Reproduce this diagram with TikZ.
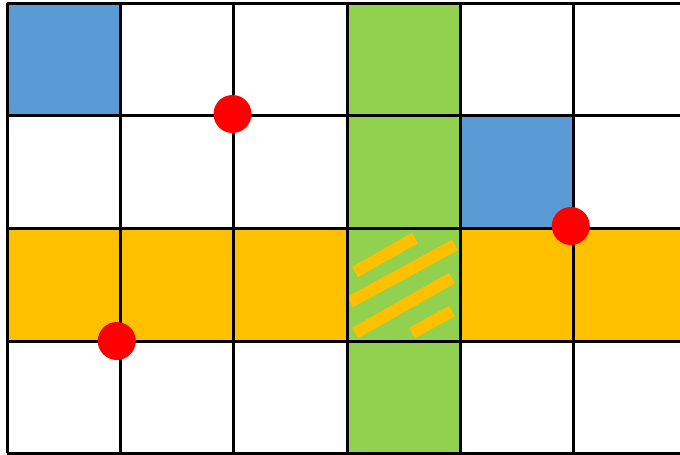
\documentclass[tikz,border=0pt]{standalone}
\usepackage{tikz}
\definecolor{CellBlue}{HTML}{5B9BD5}
\definecolor{CellGreen}{HTML}{92D050}
\definecolor{CellOrange}{HTML}{FFC000}
\definecolor{DotRed}{HTML}{FF0000}
\tikzset{
  gridline/.style={draw=black, line width=3pt},
  hatch/.style={draw=CellOrange, line width=12pt},
  dot/.style={circle, fill=DotRed, minimum size=38pt, inner sep=0pt},
}
\begin{document}
\begin{tikzpicture}[x=1pt, y=-1pt]
    \useasboundingbox (0,0) rectangle (680,455);
    % filled cells
    \fill[CellOrange] (7,228) rectangle (680,341);
    \fill[CellGreen] (347,3) rectangle (460,453);
    \fill[CellBlue] (7,3) rectangle (120,115);
    \fill[CellBlue] (460,115) rectangle (573,228);
    % crossing cell
    \begin{scope}
      \clip (347,228) rectangle (460,341);
      \draw[hatch] (355,272) -- (415,238);
      \draw[hatch] (350,302) -- (455,245);
      \draw[hatch] (355,333) -- (452,278);
      \draw[hatch] (412,333) -- (452,311);
    \end{scope}
    % grid
    \foreach \x in {7,120,233,347,460,573}
      \draw[gridline] (\x,3) -- (\x,453);
    \foreach \y in {3,115,228,341,453}
      \draw[gridline] (7,\y) -- (680,\y);
    % points
    \node[dot] (dotA) at (232.5,114) {};
    \node[dot] (dotB) at (570.8,226) {};
    \node[dot] (dotC) at (116.8,341) {};
  \end{tikzpicture}
\end{document}
